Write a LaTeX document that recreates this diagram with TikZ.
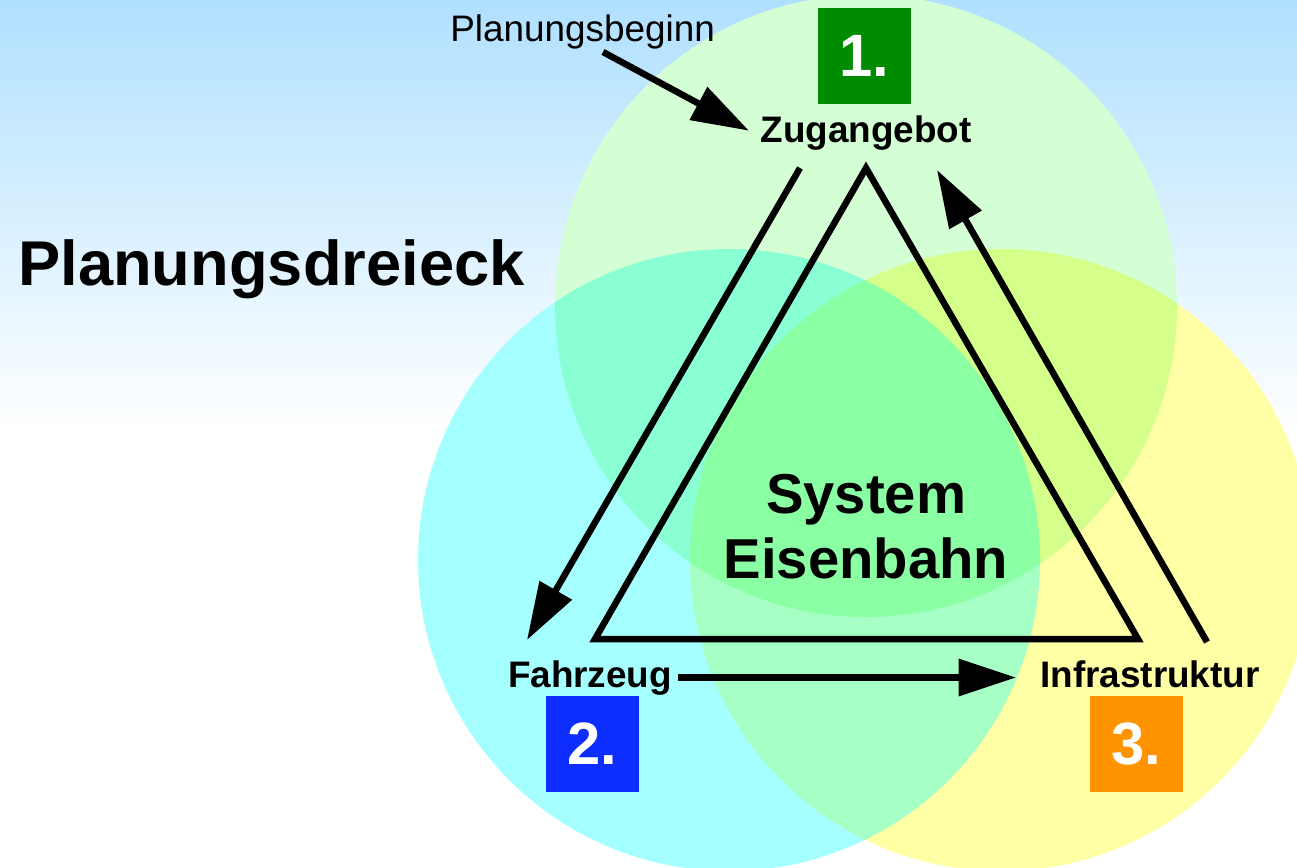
\documentclass[tikz,border=0pt]{standalone}
\usepackage{fontspec}
\setmainfont{Liberation Sans}
\usetikzlibrary{arrows.meta}
\definecolor{skyblue}{RGB}{176,224,255}
\definecolor{boxgreen}{RGB}{0,140,0}
\definecolor{boxblue}{RGB}{13,46,255}
\definecolor{boxorange}{RGB}{255,148,0}
\definecolor{ringcyan}{RGB}{0,255,255}
\definecolor{ringyellow}{RGB}{255,255,0}
\definecolor{ringgreen}{RGB}{0,255,0}

\begin{document}
\begin{tikzpicture}[x=0.02cm, y=-0.02cm,
    arr/.style={line width=0.13cm, -{Triangle[length=1.15cm, width=0.72cm]}},
    lbl/.style={font=\fontsize{21pt}{25pt}\selectfont\bfseries},
    nbox/.style={minimum width=1.86cm, minimum height=1.92cm, inner sep=0pt,
      text=white, font=\fontsize{34pt}{40pt}\selectfont\bfseries}]
            % Hintergrund
            \useasboundingbox (0,0) rectangle (1297,868);
            \fill[white] (0,0) rectangle (1297,868);
            \shade[top color=skyblue, bottom color=white] (0,0) rectangle (1297,430);

            % Kreise
            \fill[white] (1001,560) circle (311) (729,560) circle (311) (866,306) circle (311);
            \fill[ringyellow, opacity=0.35] (1001,560) circle (311);
            \fill[ringcyan, opacity=0.35] (729,560) circle (311);
            \fill[ringgreen, opacity=0.17] (866,306) circle (311);

            % Titel
            \node[anchor=base west, inner sep=0pt, font=\fontsize{36pt}{42pt}\selectfont\bfseries]
                (title) at (18,285) {Planungsdreieck};

            % Ecken
            \node[lbl, anchor=base] (zug) at (866,143) {Zugangebot};
            \node[lbl, anchor=base] (fahrzeug) at (590,687) {Fahrzeug};
            \node[lbl, anchor=base] (infra) at (1150,687) {Infrastruktur};
            \node[anchor=base west, inner sep=0pt, font=\fontsize{21pt}{25pt}\selectfont]
                (start) at (450,42) {Planungsbeginn};

            % Nummern
            \node[nbox, fill=boxgreen] (b1) at (864,56) {1.};
            \node[nbox, fill=boxblue] (b2) at (592,744) {2.};
            \node[nbox, fill=boxorange] (b3) at (1136,744) {3.};

            % Dreieck
            \coordinate (ttop) at (866,168);
            \coordinate (tleft) at (595,639);
            \coordinate (tright) at (1138,639);
            \draw[line width=0.13cm, line join=miter] (ttop) -- (tleft) -- (tright) -- cycle;

            % System Eisenbahn
            \node[align=center, font=\fontsize{32pt}{37pt}\selectfont\bfseries]
                (system) at (866,527) {System\\Eisenbahn};

            % Pfeile
            \coordinate (pb) at (603,52);
            \coordinate (a1s) at (800,168);
            \coordinate (a1e) at (527,640);
            \coordinate (a3s) at (1207,642);
            \coordinate (a3e) at (937,170);
            \draw[arr, shorten >=0.12cm] (pb) -- (zug.west);
            \draw[arr] (a1s) -- (a1e);
            \draw[arr, shorten >=0.36cm] (fahrzeug.east) -- (fahrzeug.east -| infra.west);
            \draw[arr] (a3s) -- (a3e);
\end{tikzpicture}
\end{document}
